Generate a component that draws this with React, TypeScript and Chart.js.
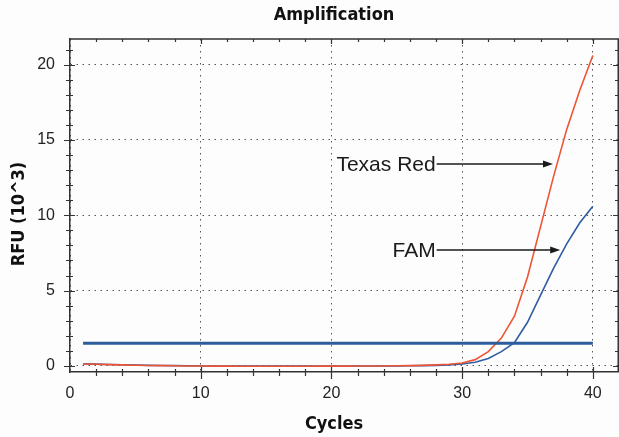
import { useEffect, useRef } from "react";
import { Chart, registerables } from "chart.js";

Chart.register(...registerables);

const cycles = [
  1, 2, 3, 4, 5, 6, 7, 8, 9, 10, 11, 12, 13, 14, 15, 16, 17, 18, 19, 20,
  21, 22, 23, 24, 25, 26, 27, 28, 29, 30, 31, 32, 33, 34, 35, 36, 37, 38, 39, 40,
];

const texasRed = [
  0.13, 0.11, 0.09, 0.07, 0.05, 0.03, 0.02, 0.01, 0.0, 0.0,
  -0.01, -0.01, -0.02, -0.02, -0.02, -0.02, -0.02, -0.02, -0.01, -0.01,
  -0.01, 0.0, 0.0, 0.0, 0.01, 0.02, 0.04, 0.07, 0.11, 0.2,
  0.42, 0.95, 1.85, 3.3, 5.9, 9.25, 12.6, 15.7, 18.3, 20.6,
];

const fam = [
  0.15, 0.12, 0.1, 0.08, 0.06, 0.04, 0.03, 0.02, 0.01, 0.0,
  0.0, -0.01, -0.01, -0.01, -0.01, -0.01, -0.01, -0.01, -0.01, 0.0,
  0.0, 0.0, 0.0, 0.0, 0.0, 0.01, 0.02, 0.04, 0.07, 0.13,
  0.25, 0.5, 0.95, 1.55, 2.9, 4.7, 6.5, 8.1, 9.5, 10.6,
];

const thresholdCycles = [1, 40];
const thresholdRfu = [1.5, 1.5];

const annotationLabels = ["Texas Red", "FAM"];
const annotationFromCycle = [28.05, 28.05];
const annotationToCycle = [36.95, 37.5];
const annotationRfu = [13.4, 7.7];

const titleText = "Amplification";
const xTitleText = "Cycles";
const yTitleText = "RFU (10^3)";

const BOLD_FONT = "bold 18px 'DejaVu Sans Condensed', 'DejaVu Sans', sans-serif";

const decorPlugin = {
  id: "decor",
  beforeDraw(chart: any) {
    const { ctx } = chart;
    ctx.save();
    ctx.fillStyle = "#fdfdfd";
    ctx.fillRect(0, 0, chart.width, chart.height);
    ctx.restore();
  },
  afterDraw(chart: any) {
    const { ctx, chartArea: a } = chart;
    const xs = chart.scales.x;
    const ys = chart.scales.y;
    ctx.save();

    // frame top & right
    ctx.strokeStyle = "#333";
    ctx.lineWidth = 1.5;
    ctx.beginPath();
    ctx.moveTo(a.left, a.top);
    ctx.lineTo(a.right, a.top);
    ctx.moveTo(a.right - 0.75, a.top);
    ctx.lineTo(a.right - 0.75, a.bottom);
    ctx.stroke();

    // tick marks
    ctx.lineWidth = 1.2;
    ctx.beginPath();
    for (let v = 2; v < xs.max; v += 2) {
      const px = Math.round(xs.getPixelForValue(v)) + 0.5;
      const major = v % 10 === 0;
      ctx.moveTo(px, a.bottom - (major ? 5 : 3));
      ctx.lineTo(px, a.bottom + (major ? 7 : 4));
      ctx.moveTo(px, a.top);
      ctx.lineTo(px, a.top + (major ? 5 : 3));
    }
    for (let v = 0; v < ys.max; v += 1) {
      const py = Math.round(ys.getPixelForValue(v)) + 0.5;
      const major = v % 5 === 0;
      ctx.moveTo(a.left - (major ? 6 : 4), py);
      ctx.lineTo(a.left + (major ? 5 : 3), py);
      ctx.moveTo(a.right, py);
      ctx.lineTo(a.right - (major ? 6 : 4), py);
    }
    ctx.stroke();

    // annotations
    ctx.font = "21px 'Liberation Sans', Arial, sans-serif";
    ctx.fillStyle = "#1a1a1a";
    ctx.strokeStyle = "#1a1a1a";
    ctx.textAlign = "right";
    ctx.textBaseline = "middle";
    for (let i = 0; i < annotationLabels.length; i++) {
      const x0 = xs.getPixelForValue(annotationFromCycle[i]);
      const x1 = xs.getPixelForValue(annotationToCycle[i]);
      const py = ys.getPixelForValue(annotationRfu[i]);
      ctx.fillText(annotationLabels[i], x0 - 1, py + 1);
      ctx.lineWidth = 1.6;
      ctx.beginPath();
      ctx.moveTo(x0, py);
      ctx.lineTo(x1 - 8, py);
      ctx.stroke();
      ctx.beginPath();
      ctx.moveTo(x1, py);
      ctx.lineTo(x1 - 10, py - 3.5);
      ctx.lineTo(x1 - 10, py + 3.5);
      ctx.closePath();
      ctx.fill();
    }

    // titles
    ctx.font = BOLD_FONT;
    ctx.fillStyle = "#111";
    ctx.textAlign = "center";
    ctx.textBaseline = "middle";
    ctx.fillText(titleText, 334, 15);
    ctx.fillText(xTitleText, 334, 424);
    ctx.save();
    ctx.translate(19, 214);
    ctx.rotate(-Math.PI / 2);
    ctx.fillText(yTitleText, 0, 0);
    ctx.restore();

    ctx.restore();
  },
};

export default function App() {
  const ref = useRef<HTMLCanvasElement | null>(null);

  useEffect(() => {
    if (!ref.current) return;
    const chart = new Chart(ref.current, {
      type: "line",
      data: {
        datasets: [
          {
            label: "Threshold",
            data: thresholdCycles.map((c, i) => ({ x: c, y: thresholdRfu[i] })),
            borderColor: "#2d5c9d",
            borderWidth: 3,
            pointRadius: 0,
            order: 0,
          },
          {
            label: "Texas Red",
            data: cycles.map((c, i) => ({ x: c, y: texasRed[i] })),
            borderColor: "#ee5535",
            borderWidth: 1.6,
            pointRadius: 0,
            tension: 0,
            order: 1,
          },
          {
            label: "FAM",
            data: cycles.map((c, i) => ({ x: c, y: fam[i] })),
            borderColor: "#2f5da3",
            borderWidth: 1.6,
            pointRadius: 0,
            tension: 0,
            order: 2,
          },
        ],
      },
      options: {
        animation: false,
        responsive: false,
        devicePixelRatio: 1,
        layout: { padding: { top: 39, left: 0, right: 0, bottom: 0 } },
        plugins: {
          legend: { display: false },
          tooltip: { enabled: false },
          title: { display: false },
        },
        scales: {
          x: {
            type: "linear",
            min: 0,
            max: 42,
            afterFit: (s: any) => {
              s.height = 65;
            },
            ticks: {
              stepSize: 10,
              includeBounds: false,
              padding: 12,
              color: "#222",
              font: { family: "'Liberation Sans', Arial, sans-serif", size: 16 },
              maxRotation: 0,
            },
            grid: {
              drawTicks: false,
              color: "#555",
              lineWidth: 1,
            },
            border: { display: true, color: "#333", width: 1.5, dash: [1.5, 4.5] },
          },
          y: {
            type: "linear",
            min: -0.4,
            max: 21.7,
            afterFit: (s: any) => {
              s.width = 70;
            },
            ticks: {
              stepSize: 5,
              includeBounds: false,
              padding: 15,
              color: "#222",
              font: { family: "'Liberation Sans', Arial, sans-serif", size: 16 },
            },
            grid: {
              drawTicks: false,
              color: "#555",
              lineWidth: 1,
            },
            border: { display: true, color: "#333", width: 1.5, dash: [1.5, 4.5] },
          },
        },
      },
      plugins: [decorPlugin],
    });
    return () => chart.destroy();
  }, []);

  return (
    <div style={{ position: "absolute", left: 0, top: 0, width: 619, height: 437 }}>
      <canvas ref={ref} width={619} height={437} />
    </div>
  );
}
